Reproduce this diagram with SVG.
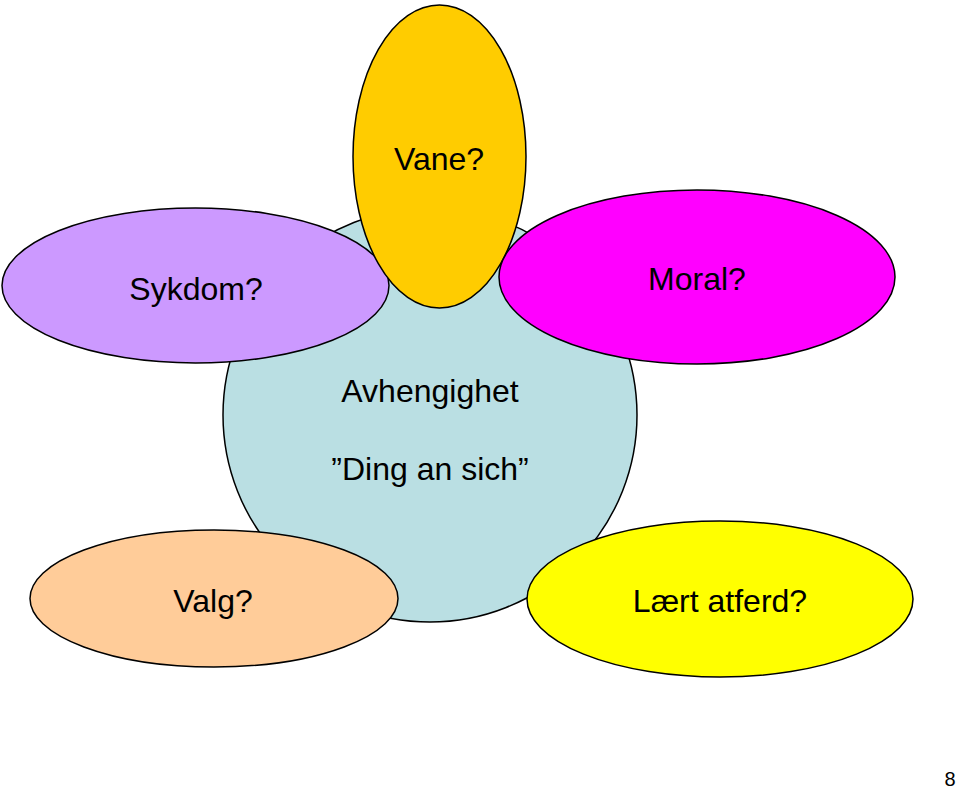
<svg xmlns="http://www.w3.org/2000/svg" width="960" height="792" viewBox="0 0 960 792">
<style>
.n{stroke:#000;stroke-width:1.5}
.t{font-family:"Liberation Sans",Arial,sans-serif;font-size:32px;fill:#000;text-anchor:middle}
</style>
<rect width="960" height="792" fill="#fff"/>
<g id="center"><circle class="n" cx="430" cy="415" r="207" fill="#BADFE3"/>
<text class="t" x="430" y="402">Avhengighet</text>
<text class="t" x="430" y="480">”Ding an sich”</text></g>
<g id="sykdom"><ellipse class="n" cx="195.5" cy="285.5" rx="193.5" ry="77.5" fill="#CC99FF"/>
<text class="t" x="196" y="300">Sykdom?</text></g>
<g id="vane"><ellipse class="n" cx="439.5" cy="156.5" rx="86.5" ry="151.5" fill="#FFCC00"/>
<text class="t" x="439" y="170">Vane?</text></g>
<g id="moral"><ellipse class="n" cx="697" cy="277" rx="198" ry="87" fill="#FF00FF"/>
<text class="t" x="697" y="290">Moral?</text></g>
<g id="valg"><ellipse class="n" cx="214" cy="598.5" rx="184" ry="68.5" fill="#FFCC99"/>
<text class="t" x="213" y="612">Valg?</text></g>
<g id="laert"><ellipse class="n" cx="720" cy="599" rx="193" ry="78" fill="#FFFF00"/>
<text class="t" x="720" y="612">Lært atferd?</text></g>
<g id="connectors"/>
<text x="950" y="786" style="font-family:'Liberation Sans',Arial,sans-serif;font-size:20px;text-anchor:middle">8</text>
</svg>
